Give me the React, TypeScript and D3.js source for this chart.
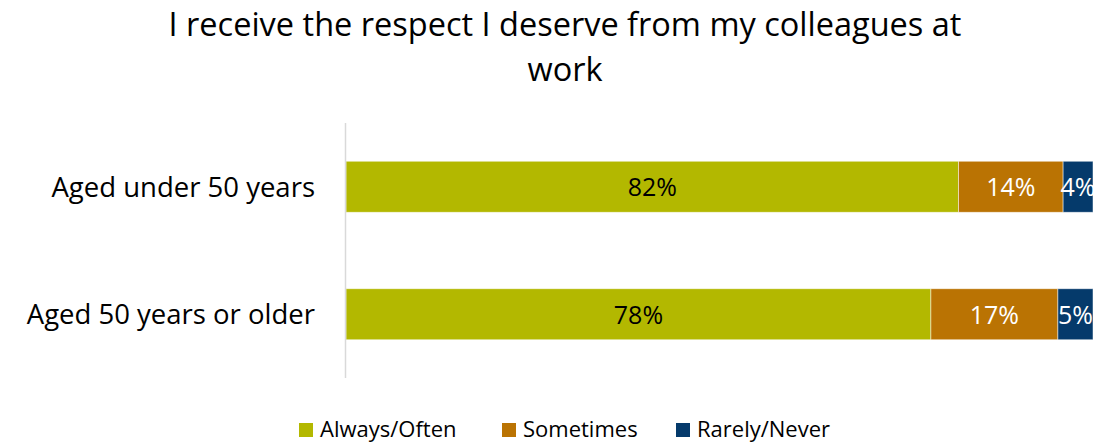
import React from "react";
import * as d3 from "d3";

const categories = ["Aged under 50 years", "Aged 50 years or older"];
const seriesNames = ["Always/Often", "Sometimes", "Rarely/Never"];
const alwaysOften = [82.0, 78.3];
const sometimes = [14.0, 17.0];
const rarelyNever = [4.0, 4.7];
const titleLines = ["I receive the respect I deserve from my colleagues at", "work"];

const colors = ["#B3B800", "#BA7303", "#053A6B"];
const labelColors = ["#000000", "#ffffff", "#ffffff"];
const FONT = "'Open Sans', Calibri, sans-serif";

export default function App() {
  const W = 1109, H = 444;
  const x = d3.scaleLinear().domain([0, 100]).range([346, 1093]);
  const y = d3.scaleBand<string>().domain(categories).range([123, 378]).paddingInner(0.6).paddingOuter(0.3);
  const series = [alwaysOften, sometimes, rarelyNever];
  const rows = categories.map((c, i) => {
    const o: any = { cat: c };
    seriesNames.forEach((s, j) => (o[s] = series[j][i]));
    return o;
  });
  const stacked = d3.stack<any>().keys(seriesNames)(rows);
  const legendX = [299, 502, 676];
  const fmt = (v: number) => `${Math.round(v)}%`;

  return (
    <svg width={W} height={H} style={{ position: "absolute", left: 0, top: 0, fontFamily: FONT }}>
      <rect width={W} height={H} fill="#fff" />
      {titleLines.map((t, i) => (
        <text key={i} x={565} y={36 + i * 45} textAnchor="middle" fontSize={32.5} fill="#000">{t}</text>
      ))}
      {stacked.map((layer, j) =>
        layer.map((d, i) => {
          const x0 = x(d[0]), x1 = x(d[1]);
          const yy = y(categories[i])!;
          return (
            <g key={`${j}-${i}`}>
              <rect x={x0} y={yy} width={x1 - x0} height={y.bandwidth()} fill={colors[j]} stroke="#ffffff" strokeOpacity={0.6} strokeWidth={0.8} />
              <text x={(x0 + x1) / 2} y={yy + y.bandwidth() / 2 + 9.5} textAnchor="middle" fontSize={25} fill={labelColors[j]}>
                {fmt(series[j][i])}
              </text>
            </g>
          );
        })
      )}
      <line x1={345.5} x2={345.5} y1={123} y2={378} stroke="#d9d9d9" strokeWidth={1.5} />
      {categories.map((c) => (
        <text key={c} x={315} y={y(c)! + y.bandwidth() / 2 + 10} textAnchor="end" fontSize={27.5} fill="#000">{c}</text>
      ))}
      {seriesNames.map((s, j) => (
        <g key={s}>
          <rect x={legendX[j]} y={423} width={14} height={14} fill={colors[j]} />
          <text x={legendX[j] + 21} y={437} fontSize={22} fill="#000">{s}</text>
        </g>
      ))}
    </svg>
  );
}
